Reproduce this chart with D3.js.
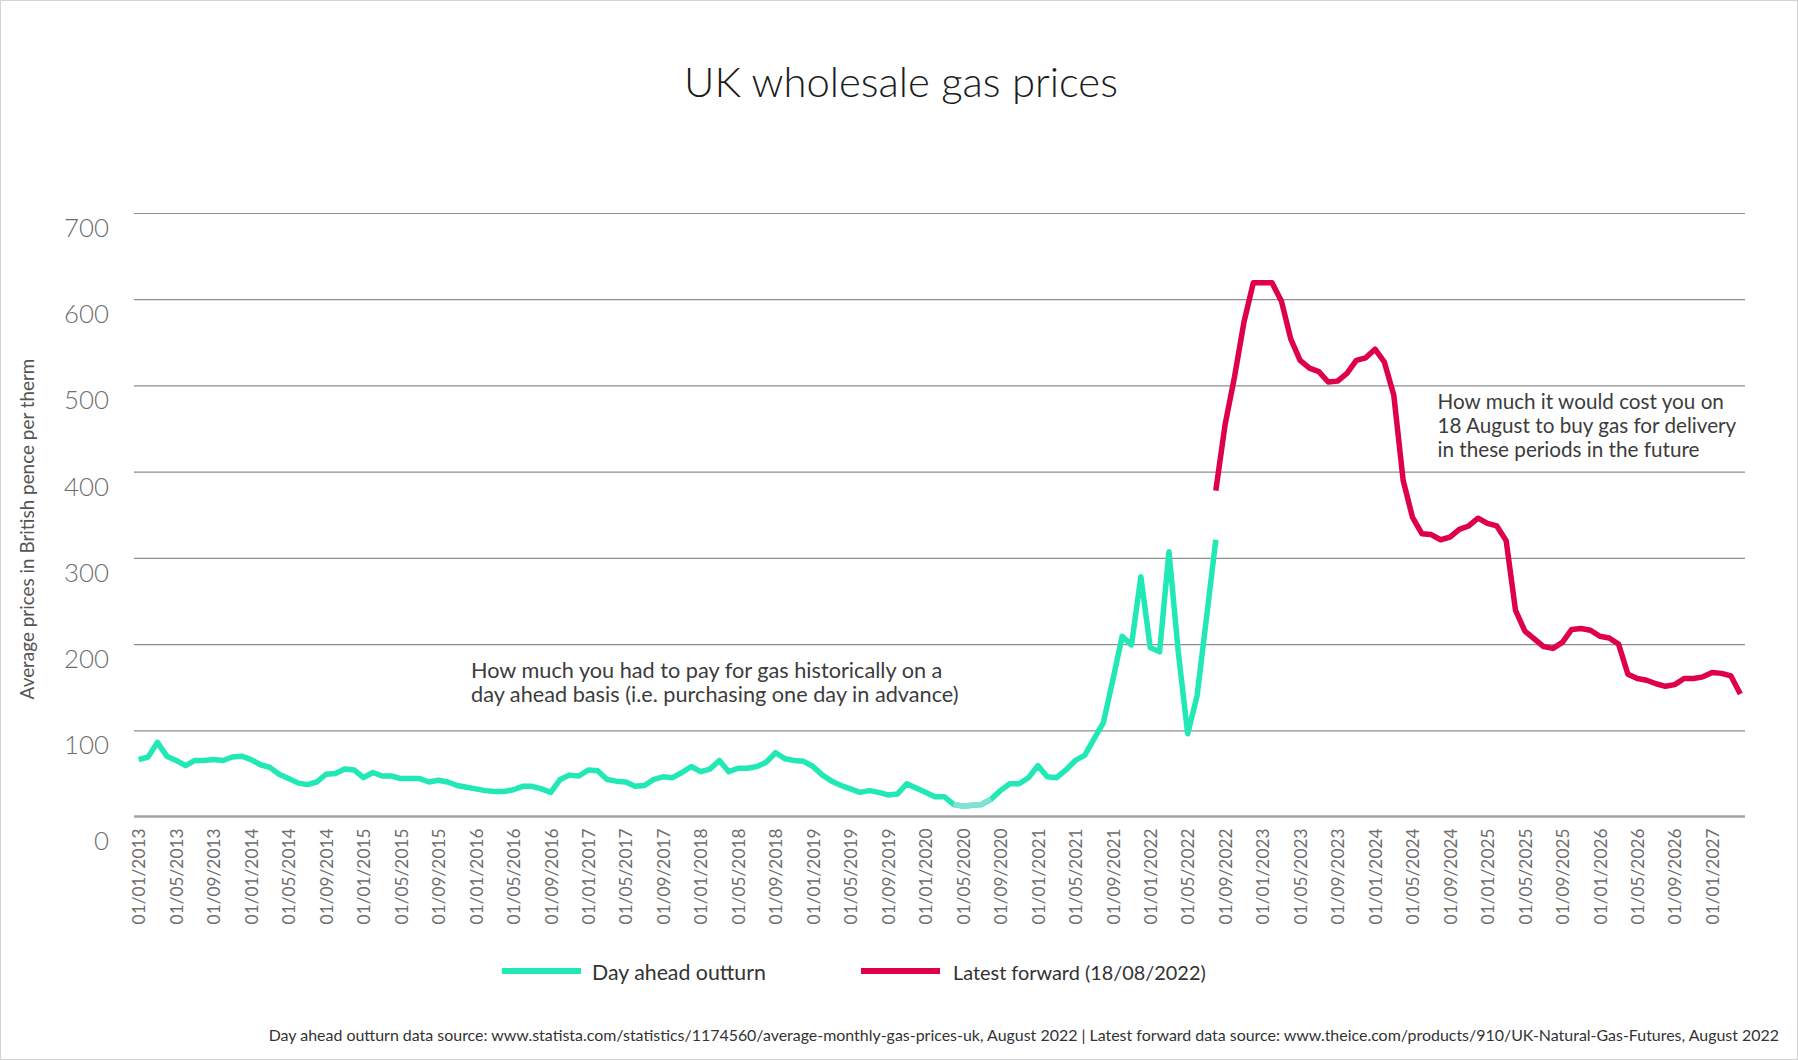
<!DOCTYPE html>
<html><head><meta charset="utf-8">
<script src="https://cdn.jsdelivr.net/npm/d3@7"></script>
<style>
body{margin:0;background:#fff}
svg{display:block}
text{font-family:Lato,"Open Sans","DejaVu Sans",sans-serif}
</style>
</head><body>
<svg id="chart" width="1798" height="1060"></svg>
<script>
// ---------- data ----------
const firstMonth = "2013-01";
const lastMonth  = "2027-04";

// Day ahead outturn, monthly from Jan 2013 to Aug 2022 (pence / therm)
const dayAhead = [
  66,69,86,70,65,59,65,65,66,65,69,70,
  66,60,57,49,44,39,37,40,49,50,55,54,
  45,51,47,47,44,44,44,40,42,40,36,34,
  32,30,29,29,31,35,35,32,28,43,48,47,
  54,53,43,41,40,35,36,43,46,45,51,58,
  52,55,65,52,56,56,58,63,74,67,65,64,
  58,48,41,36,32,28,30,28,25,26,38,33,
  28,23,23,14,12,13,14,20,30,38,38,45,
  59,46,45,54,65,71,90,109,158,209,199,278,
  196,191,307,190,96,140,230,321
];
// lighter stretch of the day ahead line
const dayAheadLightFrom = "2020-04";
const dayAheadLightTo   = "2020-08";

// Latest forward (18/08/2022), monthly from Aug 2022 to Apr 2027
const forwardFrom = "2022-08";
const forward = [
  378,455,510,573,619,
  619,619,598,554,529,520,516,504,505,514,529,532,
  542,527,489,390,347,328,327,321,324,333,337,346,
  340,337,320,239,215,206,197,195,202,217,218,216,
  209,207,200,165,160,158,154,151,153,160,160,162,
  167,166,163,142
];

const yTicks = [0,100,200,300,400,500,600,700];
const xTickEvery = 4; // label every 4 months

const seriesNames = ["Day ahead outturn", "Latest forward (18/08/2022)"];
const titleText = "UK wholesale gas prices";
const yTitle = "Average prices in British pence per therm";
const noteHistoric = ["How much you had to pay for gas historically on a",
                      "day ahead basis (i.e. purchasing one day in advance)"];
const noteForward = ["How much it would cost you on",
                     "18 August to buy gas for delivery",
                     "in these periods in the future"];
const sourceText = "Day ahead outturn data source: www.statista.com/statistics/1174560/average-monthly-gas-prices-uk, August 2022 | Latest forward data source: www.theice.com/products/910/UK-Natural-Gas-Futures, August 2022";

// ---------- setup ----------
const W = 1798, H = 1060;
const colGreen = "#21e8b5", colGreenLight = "#80e2d0", colRed = "#de004b";
const plot = {left:134, right:1745, top:213, bottom:816.5};

const parseKey = d3.timeParse("%Y-%m");
const keyFmt = d3.timeFormat("%Y-%m");
const labelFmt = d3.timeFormat("%d/%m/%Y");
const months = d3.timeMonth.range(parseKey(firstMonth), d3.timeMonth.offset(parseKey(lastMonth),1)).map(keyFmt);

const x = d3.scalePoint().domain(months).range([plot.left, plot.right]).padding(0.5);
const y = d3.scaleLinear().domain([0,700]).range([plot.bottom, plot.top]);

const svg = d3.select("#chart");
svg.append("rect").attr("x",0).attr("y",0).attr("width",W).attr("height",H).attr("fill","#fff");
svg.append("rect").attr("x",0.5).attr("y",0.5).attr("width",W-1).attr("height",H-1)
   .attr("fill","none").attr("stroke","#d4d4d4").attr("stroke-width",1);

function fit(sel, target){
  const w = sel.node().getComputedTextLength();
  const fs = parseFloat(sel.attr("font-size"));
  return fs*target/w;
}

// title
const t = svg.append("text").text(titleText).attr("x",901).attr("y",97)
  .attr("text-anchor","middle").attr("font-size",36).attr("fill","#1c1c1c").attr("font-weight",300);
t.attr("font-size", fit(t,434));

// gridlines (y axis)
const yAxis = d3.axisLeft(y).tickValues(yTicks.filter(v=>v>0)).tickSize(-(plot.right-plot.left)).tickFormat("");
const gy = svg.append("g").attr("transform",`translate(${plot.left},0)`).call(yAxis);
gy.select(".domain").remove();
gy.selectAll(".tick line").attr("stroke","#8e8e8e").attr("stroke-width",1.2);

// y tick labels
const yl = svg.append("g").selectAll("text").data(yTicks).join("text")
  .attr("x",109).attr("y",d=>y(d) + (d===0?24:15)).attr("dy","0.35em")
  .attr("text-anchor","end").attr("font-size",26).attr("fill","#6e6e6e").attr("font-weight",300)
  .text(d=>d);
const ylfs = fit(yl.filter(d=>d===700), 45);
yl.attr("font-size", ylfs);

// x axis
const xAxis = d3.axisBottom(x).tickValues(months.filter((m,i)=>i%xTickEvery===0))
  .tickSize(0).tickFormat(m=>labelFmt(parseKey(m)));
const gx = svg.append("g").attr("transform",`translate(0,${plot.bottom})`).call(xAxis);
gx.select(".domain").remove();
gx.selectAll(".tick text")
  .attr("transform","rotate(-90)").attr("text-anchor","end")
  .attr("x",-12).attr("y",0).attr("dy","0.36em")
  .attr("font-size",18).attr("fill","#6e6e6e").attr("font-family","Lato,'Open Sans',sans-serif");
const xfs = fit(gx.select(".tick text"), 96);
gx.selectAll(".tick text").attr("font-size", xfs);

svg.append("line").attr("x1",plot.left).attr("x2",plot.right).attr("y1",plot.bottom).attr("y2",plot.bottom)
  .attr("stroke","#a3a3a3").attr("stroke-width",2.6);

// y title
const yt = svg.append("text").text(yTitle)
  .attr("transform","translate(33.5,529) rotate(-90)").attr("text-anchor","middle")
  .attr("font-size",17).attr("fill","#555");
yt.attr("font-size", fit(yt,341));

// lines
const line = d3.line().x(d=>x(d.m)).y(d=>y(d.v)).curve(d3.curveLinear);
const daData = dayAhead.map((v,i)=>({m:months[i], v}));
const f0 = months.indexOf(forwardFrom);
const fwData = forward.map((v,i)=>({m:months[f0+i], v}));
const l0 = months.indexOf(dayAheadLightFrom), l1 = months.indexOf(dayAheadLightTo);

svg.append("path").datum(daData).attr("d",line).attr("fill","none")
  .attr("stroke",colGreen).attr("stroke-width",5.5).attr("stroke-linejoin","round");
svg.append("path").datum(daData.slice(l0,l1+1)).attr("d",line).attr("fill","none")
  .attr("stroke",colGreenLight).attr("stroke-width",5.5).attr("stroke-linejoin","round");
svg.append("path").datum(fwData).attr("d",line).attr("fill","none")
  .attr("stroke",colRed).attr("stroke-width",5.5).attr("stroke-linejoin","round");

// annotations
function block(lines, x0, y0, lh, target){
  const g = svg.append("g");
  const ts = g.selectAll("text").data(lines).join("text")
    .attr("x",x0).attr("y",(d,i)=>y0+i*lh).attr("font-size",18).attr("fill","#3c3c3c").text(d=>d);
  let longest = ts.filter((d,i)=>i===target[0]);
  ts.attr("font-size", fit(longest, target[1]));
}
block(noteHistoric, 471, 678, 24, [1,488]);
block(noteForward, 1437.5, 409, 24, [1,299]);

// legend
const legend = svg.append("g");
const legItems = [
  {name:seriesNames[0], color:colGreen, x1:502, x2:581, tx:592, w:174},
  {name:seriesNames[1], color:colRed, x1:861, x2:940, tx:953, w:253}
];
legItems.forEach(it=>{
  legend.append("line").attr("x1",it.x1).attr("x2",it.x2).attr("y1",971).attr("y2",971)
    .attr("stroke",it.color).attr("stroke-width",6);
  const tt = legend.append("text").text(it.name).attr("x",it.tx).attr("y",973).attr("dy","0.35em")
    .attr("font-size",19).attr("fill","#333");
  tt.attr("font-size", fit(tt,it.w));
});

// source
const src = svg.append("text").text(sourceText).attr("x",1779).attr("y",1035).attr("dy","0.35em")
  .attr("text-anchor","end").attr("font-size",14).attr("fill","#333");
src.attr("font-size", fit(src,1512));
</script>
</body></html>
